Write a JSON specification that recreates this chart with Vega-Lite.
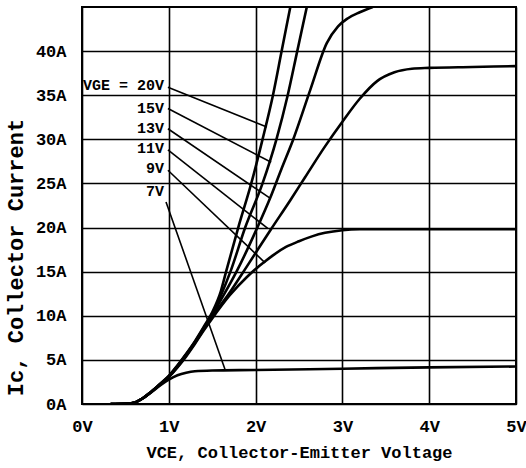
{
  "$schema": "https://vega.github.io/schema/vega-lite/v6.json",
  "width": 434,
  "height": 397,
  "autosize": {"type": "none"},
  "padding": {"left": 82, "top": 7, "right": 10, "bottom": 64},
  "background": "white",
  "config": {
    "view": {"stroke": "black", "strokeWidth": 2},
    "axis": {
      "domain": false,
      "ticks": false,
      "grid": true,
      "gridColor": "black",
      "gridWidth": 1.6,
      "gridOpacity": 1,
      "labelFont": "Liberation Mono",
      "labelFontWeight": "bold",
      "labelFontSize": 17,
      "labelColor": "black",
      "titleFont": "Liberation Mono",
      "titleFontWeight": "bold",
      "titleColor": "black"
    }
  },
  "datasets": {
    "curves": [
      {"vge": "20V", "v": 0.33, "i": 0}, {"vge": "20V", "v": 0.5, "i": 0.02}, {"vge": "20V", "v": 0.6, "i": 0.15}, {"vge": "20V", "v": 0.7, "i": 0.65}, {"vge": "20V", "v": 0.8, "i": 1.4}, {"vge": "20V", "v": 0.9, "i": 2.3}, {"vge": "20V", "v": 1.0, "i": 3.2}, {"vge": "20V", "v": 1.1, "i": 4.4}, {"vge": "20V", "v": 1.2, "i": 5.7}, {"vge": "20V", "v": 1.3, "i": 7.1}, {"vge": "20V", "v": 1.4, "i": 8.7}, {"vge": "20V", "v": 1.5, "i": 10.4}, {"vge": "20V", "v": 1.6, "i": 12.8}, {"vge": "20V", "v": 1.66, "i": 15}, {"vge": "20V", "v": 1.8, "i": 20}, {"vge": "20V", "v": 1.95, "i": 25}, {"vge": "20V", "v": 2.08, "i": 30}, {"vge": "20V", "v": 2.2, "i": 35}, {"vge": "20V", "v": 2.3, "i": 40}, {"vge": "20V", "v": 2.4, "i": 45},
      {"vge": "15V", "v": 0.33, "i": 0}, {"vge": "15V", "v": 0.5, "i": 0.02}, {"vge": "15V", "v": 0.6, "i": 0.15}, {"vge": "15V", "v": 0.7, "i": 0.65}, {"vge": "15V", "v": 0.8, "i": 1.4}, {"vge": "15V", "v": 0.9, "i": 2.25}, {"vge": "15V", "v": 1.0, "i": 3.15}, {"vge": "15V", "v": 1.1, "i": 4.3}, {"vge": "15V", "v": 1.2, "i": 5.6}, {"vge": "15V", "v": 1.3, "i": 7.0}, {"vge": "15V", "v": 1.4, "i": 8.6}, {"vge": "15V", "v": 1.5, "i": 10.2}, {"vge": "15V", "v": 1.6, "i": 12.3}, {"vge": "15V", "v": 1.71, "i": 15}, {"vge": "15V", "v": 1.88, "i": 20}, {"vge": "15V", "v": 2.08, "i": 25}, {"vge": "15V", "v": 2.24, "i": 30}, {"vge": "15V", "v": 2.37, "i": 35}, {"vge": "15V", "v": 2.48, "i": 40}, {"vge": "15V", "v": 2.59, "i": 45},
      {"vge": "13V", "v": 0.33, "i": 0}, {"vge": "13V", "v": 0.5, "i": 0.02}, {"vge": "13V", "v": 0.6, "i": 0.15}, {"vge": "13V", "v": 0.7, "i": 0.65}, {"vge": "13V", "v": 0.8, "i": 1.4}, {"vge": "13V", "v": 0.9, "i": 2.2}, {"vge": "13V", "v": 1.0, "i": 3.1}, {"vge": "13V", "v": 1.1, "i": 4.3}, {"vge": "13V", "v": 1.2, "i": 5.6}, {"vge": "13V", "v": 1.3, "i": 7.0}, {"vge": "13V", "v": 1.4, "i": 8.5}, {"vge": "13V", "v": 1.5, "i": 10.1}, {"vge": "13V", "v": 1.6, "i": 11.8}, {"vge": "13V", "v": 1.78, "i": 15}, {"vge": "13V", "v": 2.02, "i": 20}, {"vge": "13V", "v": 2.17, "i": 23.4}, {"vge": "13V", "v": 2.3, "i": 26.7}, {"vge": "13V", "v": 2.43, "i": 29.9}, {"vge": "13V", "v": 2.63, "i": 35.6}, {"vge": "13V", "v": 2.82, "i": 40.9}, {"vge": "13V", "v": 2.95, "i": 42.8}, {"vge": "13V", "v": 3.06, "i": 43.7}, {"vge": "13V", "v": 3.2, "i": 44.4}, {"vge": "13V", "v": 3.35, "i": 45},
      {"vge": "11V", "v": 0.33, "i": 0}, {"vge": "11V", "v": 0.5, "i": 0.02}, {"vge": "11V", "v": 0.6, "i": 0.15}, {"vge": "11V", "v": 0.7, "i": 0.65}, {"vge": "11V", "v": 0.8, "i": 1.4}, {"vge": "11V", "v": 0.9, "i": 2.2}, {"vge": "11V", "v": 1.0, "i": 3.1}, {"vge": "11V", "v": 1.1, "i": 4.2}, {"vge": "11V", "v": 1.2, "i": 5.5}, {"vge": "11V", "v": 1.3, "i": 6.9}, {"vge": "11V", "v": 1.4, "i": 8.4}, {"vge": "11V", "v": 1.5, "i": 9.9}, {"vge": "11V", "v": 1.7, "i": 12.6}, {"vge": "11V", "v": 1.9, "i": 15.6}, {"vge": "11V", "v": 2.17, "i": 19.7}, {"vge": "11V", "v": 2.4, "i": 23.1}, {"vge": "11V", "v": 2.57, "i": 25.7}, {"vge": "11V", "v": 2.8, "i": 29.2}, {"vge": "11V", "v": 3.0, "i": 32}, {"vge": "11V", "v": 3.2, "i": 34.6}, {"vge": "11V", "v": 3.4, "i": 36.6}, {"vge": "11V", "v": 3.6, "i": 37.6}, {"vge": "11V", "v": 3.8, "i": 38}, {"vge": "11V", "v": 4.0, "i": 38.1}, {"vge": "11V", "v": 4.5, "i": 38.2}, {"vge": "11V", "v": 5.0, "i": 38.3},
      {"vge": "9V", "v": 0.33, "i": 0}, {"vge": "9V", "v": 0.5, "i": 0.02}, {"vge": "9V", "v": 0.6, "i": 0.15}, {"vge": "9V", "v": 0.7, "i": 0.65}, {"vge": "9V", "v": 0.8, "i": 1.4}, {"vge": "9V", "v": 0.9, "i": 2.2}, {"vge": "9V", "v": 1.0, "i": 3.05}, {"vge": "9V", "v": 1.1, "i": 4.15}, {"vge": "9V", "v": 1.2, "i": 5.4}, {"vge": "9V", "v": 1.3, "i": 6.8}, {"vge": "9V", "v": 1.4, "i": 8.3}, {"vge": "9V", "v": 1.5, "i": 9.7}, {"vge": "9V", "v": 1.7, "i": 12.3}, {"vge": "9V", "v": 1.9, "i": 14.4}, {"vge": "9V", "v": 2.0, "i": 15.3}, {"vge": "9V", "v": 2.1, "i": 16.1}, {"vge": "9V", "v": 2.2, "i": 16.85}, {"vge": "9V", "v": 2.35, "i": 17.8}, {"vge": "9V", "v": 2.5, "i": 18.45}, {"vge": "9V", "v": 2.65, "i": 19.0}, {"vge": "9V", "v": 2.8, "i": 19.4}, {"vge": "9V", "v": 3.0, "i": 19.7}, {"vge": "9V", "v": 3.2, "i": 19.8}, {"vge": "9V", "v": 4.0, "i": 19.8}, {"vge": "9V", "v": 5.0, "i": 19.8},
      {"vge": "7V", "v": 0.33, "i": 0}, {"vge": "7V", "v": 0.5, "i": 0.02}, {"vge": "7V", "v": 0.6, "i": 0.15}, {"vge": "7V", "v": 0.7, "i": 0.65}, {"vge": "7V", "v": 0.8, "i": 1.35}, {"vge": "7V", "v": 0.9, "i": 2.1}, {"vge": "7V", "v": 1.0, "i": 2.75}, {"vge": "7V", "v": 1.1, "i": 3.25}, {"vge": "7V", "v": 1.2, "i": 3.55}, {"vge": "7V", "v": 1.3, "i": 3.72}, {"vge": "7V", "v": 1.5, "i": 3.8}, {"vge": "7V", "v": 2.0, "i": 3.85}, {"vge": "7V", "v": 3.0, "i": 4.0}, {"vge": "7V", "v": 4.0, "i": 4.15}, {"vge": "7V", "v": 5.0, "i": 4.25}
    ],
    "leaders": [
      {"vge": "20V", "x1": 0.99, "y1": 35.9, "x2": 2.13, "y2": 31.4},
      {"vge": "15V", "x1": 0.99, "y1": 33.5, "x2": 2.18, "y2": 27.4},
      {"vge": "13V", "x1": 0.99, "y1": 31.2, "x2": 2.17, "y2": 23.3},
      {"vge": "11V", "x1": 0.99, "y1": 28.8, "x2": 2.14, "y2": 19.9},
      {"vge": "9V", "x1": 0.99, "y1": 26.5, "x2": 2.11, "y2": 16.0},
      {"vge": "7V", "x1": 0.968, "y1": 22.9, "x2": 1.65, "y2": 3.85}
    ],
    "labels": [
      {"text": "VGE = 20V", "x": 0.945, "y": 36.2},
      {"text": "15V", "x": 0.945, "y": 33.6},
      {"text": "13V", "x": 0.945, "y": 31.3},
      {"text": "11V", "x": 0.945, "y": 29.05},
      {"text": "9V", "x": 0.945, "y": 26.8},
      {"text": "7V", "x": 0.945, "y": 24.1}
    ]
  },
  "layer": [
    {
      "data": {"name": "curves"},
      "mark": {"type": "line", "color": "black", "strokeWidth": 2.6, "interpolate": "monotone", "clip": true},
      "encoding": {
        "x": {
          "field": "v", "type": "quantitative",
          "scale": {"domain": [0, 5], "nice": false, "zero": false},
          "axis": {
            "values": [0, 1, 2, 3, 4, 5],
            "labelExpr": "datum.value + 'V'",
            "labelPadding": 14,
            "labelFlush": false,
            "title": "VCE, Collector-Emitter Voltage",
            "titleFontSize": 17,
            "titlePadding": 10
          }
        },
        "y": {
          "field": "i", "type": "quantitative",
          "scale": {"domain": [0, 45], "nice": false},
          "axis": {
            "values": [0, 5, 10, 15, 20, 25, 30, 35, 40],
            "labelExpr": "datum.value + 'A'",
            "labelPadding": 16,
            "title": "Ic, Collector Current",
            "titleFontSize": 22,
            "titleAngle": -90,
            "titleX": -67,
            "titleY": 250,
            "titleAlign": "center",
            "titleBaseline": "middle"
          }
        },
        "detail": {"field": "vge"},
        "order": {"field": "v", "type": "quantitative"}
      }
    },
    {
      "data": {"name": "leaders"},
      "mark": {"type": "rule", "color": "black", "strokeWidth": 1.6},
      "encoding": {
        "x": {"field": "x1", "type": "quantitative"},
        "y": {"field": "y1", "type": "quantitative"},
        "x2": {"field": "x2"},
        "y2": {"field": "y2"}
      }
    },
    {
      "data": {"name": "labels"},
      "mark": {"type": "text", "align": "right", "baseline": "middle", "font": "Liberation Mono", "fontWeight": "bold", "fontSize": 15, "color": "black"},
      "encoding": {
        "x": {"field": "x", "type": "quantitative"},
        "y": {"field": "y", "type": "quantitative"},
        "text": {"field": "text"}
      }
    }
  ]
}
